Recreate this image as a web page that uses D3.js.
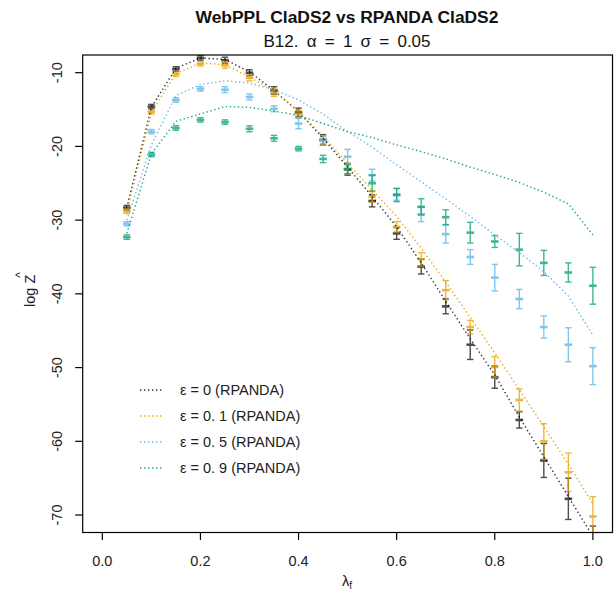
<!DOCTYPE html>
<html>
<head>
<meta charset="utf-8">
<script src="https://cdn.jsdelivr.net/npm/d3@7/dist/d3.min.js"></script>
<style>
  body { margin: 0; background: #fff; }
  svg { display: block; font-family: "Liberation Sans", Arial, sans-serif; }
</style>
</head>
<body>
<svg id="chart" width="615" height="596"></svg>
<script>
// Extinction fraction lambda_f on the x axis
const lambdas = [0.05, 0.1, 0.15, 0.2, 0.25, 0.3, 0.35, 0.4, 0.45, 0.5,
                 0.55, 0.6, 0.65, 0.7, 0.75, 0.8, 0.85, 0.9, 0.95, 1.0];

const seriesNames = ["0", "0. 1", "0. 5", "0. 9"];
const seriesColors = ["#000000", "#E69F00", "#56B4E9", "#009E73"];

// WebPPL estimates of log Z (mean) and their error half-widths
const webpplMeanEps0  = [-28.3, -14.6, -9.5, -8.0, -8.3, -10.0, -12.4, -15.4, -19.1, -23.1,
                         -27.4, -31.8, -36.3, -41.7, -46.9, -51.3, -57.1, -62.6, -67.8, -74.0];
const webpplErrEps0   = [0.3, 0.3, 0.3, 0.3, 0.4, 0.4, 0.5, 0.6, 0.7, 0.8,
                         0.8, 0.8, 1.0, 1.0, 2.0, 1.5, 1.1, 2.3, 2.8, 2.5];
const webpplMeanEps01 = [-28.8, -15.3, -10.2, -8.8, -9.0, -10.7, -12.7, -15.6, -19.2, -23.0,
                         -26.8, -30.9, -35.3, -39.5, -44.5, -49.9, -54.4, -60.0, -64.2, -70.2];
const webpplErrEps01  = [0.3, 0.3, 0.3, 0.3, 0.4, 0.4, 0.5, 0.5, 0.6, 0.7,
                         0.8, 0.7, 0.9, 1.3, 0.9, 1.4, 1.5, 2.4, 2.6, 2.7];
const webpplMeanEps05 = [-30.5, -18.0, -13.7, -12.2, -12.3, -13.3, -14.9, -16.9, -19.1, -21.4,
                         -23.9, -26.5, -29.2, -31.9, -35.0, -37.8, -40.7, -44.5, -46.9, -49.8];
const webpplErrEps05  = [0.3, 0.3, 0.3, 0.3, 0.4, 0.4, 0.4, 0.7, 0.5, 1.0,
                         0.8, 0.8, 1.0, 1.2, 1.0, 1.8, 1.3, 1.5, 2.3, 2.5];
const webpplMeanEps09 = [-32.3, -21.1, -17.5, -16.4, -16.7, -17.6, -18.9, -20.3, -21.7, -23.1,
                         -25.0, -26.6, -28.2, -29.6, -31.7, -32.9, -34.0, -35.8, -37.1, -38.9];
const webpplErrEps09  = [0.3, 0.3, 0.3, 0.3, 0.3, 0.4, 0.4, 0.3, 0.5, 0.6,
                         1.1, 0.9, 1.1, 1.0, 1.4, 0.8, 2.2, 1.7, 1.3, 2.5];

// RPANDA log Z curves
const rpandaEps0  = [-28.3, -14.7, -9.4, -8.0, -8.2, -9.9, -12.4, -15.3, -18.9, -22.8,
                     -26.8, -30.9, -35.8, -41.0, -46.1, -51.0, -56.7, -62.1, -67.5, -72.9];
const rpandaEps01 = [-28.8, -15.4, -10.1, -8.7, -8.9, -10.6, -12.5, -15.3, -18.6, -22.3,
                     -25.9, -29.5, -33.8, -38.4, -43.2, -48.0, -53.0, -58.0, -63.1, -68.5];
const rpandaEps05 = [-30.0, -19.8, -13.1, -11.6, -11.1, -11.4, -12.3, -13.7, -15.6, -18.0,
                     -20.1, -22.5, -24.8, -27.1, -29.5, -32.0, -34.4, -37.0, -40.3, -45.6];
const rpandaEps09 = [-31.8, -21.0, -16.6, -15.6, -14.6, -14.7, -15.2, -15.8, -16.9, -18.0,
                     -18.8, -19.8, -20.7, -21.7, -22.8, -23.8, -24.9, -26.2, -27.8, -32.0];

const xTicks = [0, 0.2, 0.4, 0.6, 0.8, 1.0];
const yTicks = [-10, -20, -30, -40, -50, -60, -70];

const means = [webpplMeanEps0, webpplMeanEps01, webpplMeanEps05, webpplMeanEps09];
const errs = [webpplErrEps0, webpplErrEps01, webpplErrEps05, webpplErrEps09];
const curves = [rpandaEps0, rpandaEps01, rpandaEps05, rpandaEps09];

const svg = d3.select("#chart");
const box = { left: 82.7, right: 612.5, top: 55, bottom: 532.5 };
const labelSize = 14.5;

const x = d3.scaleLinear().domain([-0.04, 1.04]).range([box.left, box.right]);
const y = d3.scaleLinear().domain([-72.37, -7.60]).range([box.bottom, box.top]);

svg.append("defs").append("clipPath").attr("id", "plotClip")
  .append("rect")
  .attr("x", box.left).attr("y", box.top)
  .attr("width", box.right - box.left).attr("height", box.bottom - box.top);

const plot = svg.append("g").attr("clip-path", "url(#plotClip)");

// Error bars with caps and a mean tick
const capW = 3.2, meanW = 3.8;
means.forEach((m, s) => {
  const g = plot.append("g")
    .attr("stroke", seriesColors[s])
    .attr("opacity", s === 0 ? 0.7 : 0.75);
  lambdas.forEach((l, i) => {
    const cx = x(l), lo = y(m[i] - errs[s][i]), hi = y(m[i] + errs[s][i]);
    g.append("line").attr("x1", cx).attr("x2", cx).attr("y1", lo).attr("y2", hi)
      .attr("stroke-width", 1.4);
    g.append("line").attr("x1", cx - capW).attr("x2", cx + capW).attr("y1", lo).attr("y2", lo)
      .attr("stroke-width", 1.4);
    g.append("line").attr("x1", cx - capW).attr("x2", cx + capW).attr("y1", hi).attr("y2", hi)
      .attr("stroke-width", 1.4);
    g.append("line").attr("x1", cx - meanW).attr("x2", cx + meanW)
      .attr("y1", y(m[i])).attr("y2", y(m[i]))
      .attr("stroke-width", 2.6);
  });
});

// Dotted RPANDA curves
const line = d3.line().x((d, i) => x(lambdas[i])).y(d => y(d));
curves.forEach((c, s) => {
  plot.append("path")
    .attr("d", line(c))
    .attr("fill", "none")
    .attr("stroke", seriesColors[s])
    .attr("stroke-width", 1.4)
    .attr("stroke-dasharray", "1.4,2.6")
    .attr("opacity", s === 0 ? 0.8 : 0.9);
});

// Plot frame
svg.append("rect")
  .attr("x", box.left).attr("y", box.top)
  .attr("width", box.right - box.left).attr("height", box.bottom - box.top)
  .attr("fill", "none").attr("stroke", "#000").attr("stroke-width", 1.2);

// X axis
const xAxis = svg.append("g");
xTicks.forEach(t => {
  xAxis.append("line").attr("x1", x(t)).attr("x2", x(t))
    .attr("y1", box.bottom).attr("y2", box.bottom + 7.5)
    .attr("stroke", "#000").attr("stroke-width", 1.2);
  xAxis.append("text").attr("x", x(t)).attr("y", 566)
    .attr("text-anchor", "middle").attr("font-size", labelSize).attr("fill", "#222")
    .text(d3.format(".1f")(t));
});

// Y axis
const yAxis = svg.append("g");
yTicks.forEach(t => {
  yAxis.append("line").attr("x1", box.left - 7.5).attr("x2", box.left)
    .attr("y1", y(t)).attr("y2", y(t))
    .attr("stroke", "#000").attr("stroke-width", 1.2);
  yAxis.append("text")
    .attr("transform", `translate(62,${y(t)}) rotate(-90)`)
    .attr("text-anchor", "middle").attr("font-size", labelSize).attr("fill", "#222")
    .text(String(t));
});

// Axis titles
const xTitle = svg.append("text").attr("x", 347).attr("y", 586)
  .attr("text-anchor", "middle").attr("font-size", labelSize).attr("fill", "#222");
xTitle.append("tspan").text("λ");
xTitle.append("tspan").attr("font-size", 10).attr("dy", 3).text("f");

const yTitle = svg.append("g").attr("transform", "translate(35,290) rotate(-90)");
yTitle.append("text").attr("x", -17).attr("y", 0)
  .attr("font-size", labelSize).attr("fill", "#222").text("log Z");
yTitle.append("text").attr("x", 15).attr("y", -11)
  .attr("text-anchor", "middle").attr("font-size", 12).attr("fill", "#222").text("^");

// Titles
svg.append("text").attr("x", 347).attr("y", 23)
  .attr("text-anchor", "middle").attr("font-size", 17.4).attr("font-weight", "bold")
  .attr("fill", "#111")
  .text("WebPPL ClaDS2 vs RPANDA ClaDS2");

svg.append("text").attr("x", 347).attr("y", 47)
  .attr("text-anchor", "middle").attr("font-size", 17).attr("fill", "#111")
  .attr("word-spacing", 3.5)
  .text("B12. α = 1 σ = 0.05");

// Legend
const legend = svg.append("g");
seriesNames.forEach((name, s) => {
  const ly = 390 + s * 26;
  legend.append("line").attr("x1", 140).attr("x2", 164).attr("y1", ly).attr("y2", ly)
    .attr("stroke", seriesColors[s]).attr("stroke-width", 1.4)
    .attr("stroke-dasharray", "1.4,2.6").attr("opacity", s === 0 ? 0.8 : 0.9);
  legend.append("text").attr("x", 180).attr("y", ly + 5)
    .attr("font-size", labelSize).attr("fill", "#222")
    .text(`ε = ${name} (RPANDA)`);
});
</script>
</body>
</html>
